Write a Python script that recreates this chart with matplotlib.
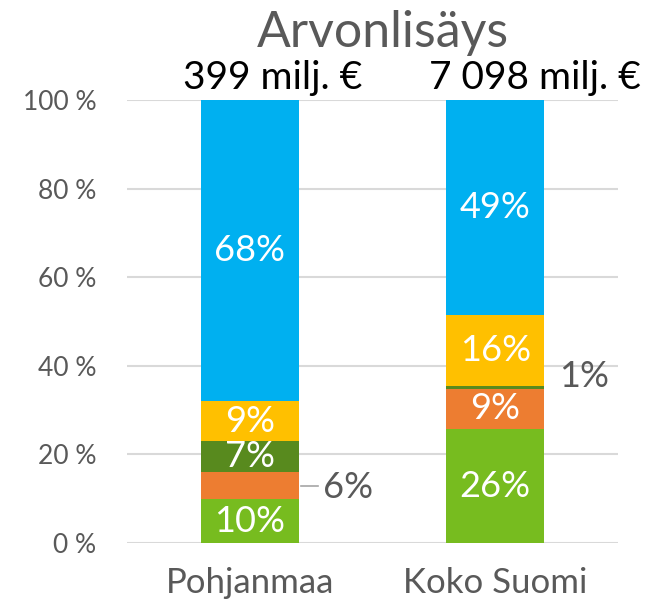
import matplotlib.pyplot as plt
import numpy as np

# values (share of value added, %)
categories = ["Pohjanmaa", "Koko Suomi"]
totals = ["399 milj. €", "7 098 milj. €"]
series_values = {
    "green":      [9.9, 25.7],
    "orange":     [6.1, 9.1],
    "dark_green": [7.0, 0.7],
    "yellow":     [9.0, 15.9],
    "blue":       [68.0, 48.6],
}
y_ticks = [0, 20, 40, 60, 80, 100]
y_tick_labels = ["0 %", "20 %", "40 %", "60 %", "80 %", "100 %"]

colors = {
    "green": "#77BC1F",
    "orange": "#ED7D31",
    "dark_green": "#588A1E",
    "yellow": "#FFC000",
    "blue": "#00B0F0",
}
# segments too thin for an inside label -> label goes to the right of the bar
outside = {("orange", 0), ("dark_green", 1)}

plt.rcParams["font.family"] = ["Lato", "DejaVu Sans"]
grey = "#595959"

fig = plt.figure(figsize=(6.46, 6.08), dpi=100)
ax = fig.add_axes([127 / 646, 65 / 608, 491 / 646, 443 / 608])

x = np.arange(len(categories))
bar_w = 0.4
bottom = np.zeros(len(categories))
for name, vals in series_values.items():
    vals = np.array(vals)
    bars = ax.bar(x, vals, bar_w, bottom=bottom, color=colors[name], zorder=2,
                  edgecolor="none")
    for i, (b, v) in enumerate(zip(bars, vals)):
        mid = bottom[i] + v / 2
        lbl = f"{v:.0f}%"
        if (name, i) in outside:
            right = x[i] + bar_w / 2
            if name == "orange":
                ax.plot([right + 0.01, right + 0.08], [mid, mid], color="#A6A6A6",
                        lw=1.2, zorder=3, clip_on=False)
                ax.text(right + 0.1, mid - 0.5, lbl, ha="left", va="center",
                        fontsize=26, color=grey)
            else:
                ax.text(right + 0.06, mid + 2.5, lbl, ha="left", va="center",
                        fontsize=26, color=grey)
        else:
            ax.text(x[i], mid, lbl, ha="center", va="center", fontsize=26,
                    color="white", zorder=4)
    bottom += vals

# total labels sit a little left of each bar's left edge, left aligned
for i, t in enumerate(totals):
    ax.text(x[i] - bar_w / 2 - 0.07, 100.8, t, ha="left", va="bottom", fontsize=28,
            color="black", clip_on=False)

ax.set_title("Arvonlisäys", fontsize=36, color=grey, pad=38, x=0.521)

ax.set_xlim(-0.5, 1.5)
ax.set_ylim(0, 100)
ax.set_yticks(y_ticks)
ax.set_yticklabels(y_tick_labels, fontsize=19, color=grey)
ax.set_xticks(x)
ax.set_xticklabels(categories, fontsize=25, color=grey)
ax.tick_params(length=0)
ax.tick_params(axis="x", pad=17)
ax.tick_params(axis="y", pad=22)
ax.grid(axis="y", color="#D9D9D9", lw=1.5, zorder=0)
ax.set_axisbelow(True)
for s in ax.spines.values():
    s.set_visible(False)

fig.savefig("out.png", dpi=100)
